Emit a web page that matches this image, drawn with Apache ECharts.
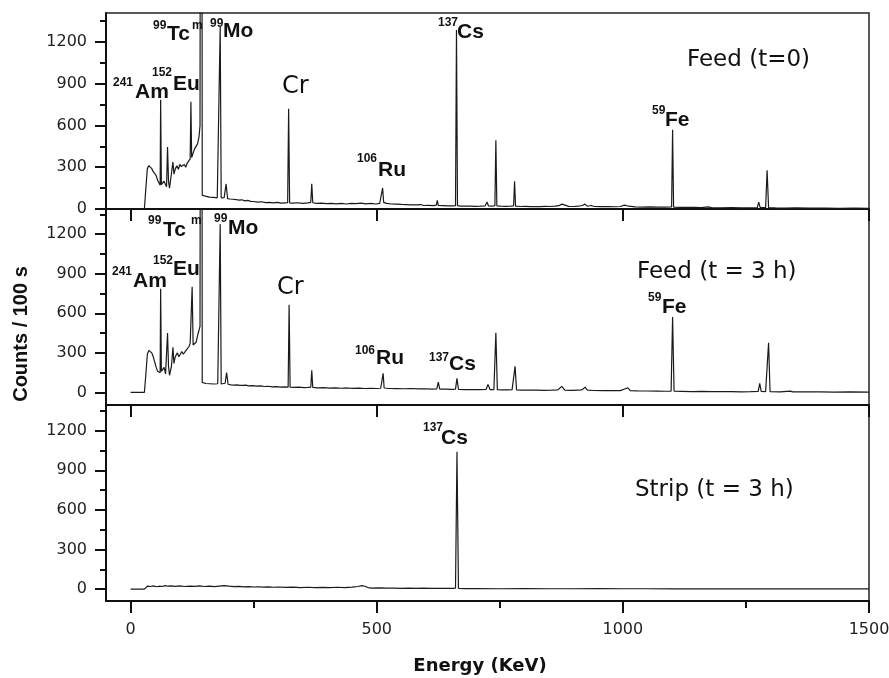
<!DOCTYPE html>
<html>
<head>
<meta charset="utf-8">
<script src="https://cdn.jsdelivr.net/npm/echarts@6/dist/echarts.min.js"></script>
<style>
html, body { margin: 0; padding: 0; background: #fff; }
#chart { width: 889px; height: 678px; }
</style>
</head>
<body>
<div id="chart"></div>
<script>
// [energy KeV, counts / 100 s]
var feed0 = [
  [0, 0], [28, 0], [31, 150], [34, 290], [37, 312], [40, 305], [43, 290], [46, 268], [49, 255], [52, 240],
  [55, 205], [58, 185], [60, 170], [61, 785], [62.5, 175], [65, 170], [68, 200], [71, 175], [73, 160], [75, 446],
  [77, 200], [79, 150], [82, 230], [86, 338], [88, 250], [91, 290], [94, 310], [97, 285], [100, 320], [103, 305],
  [106, 300], [109, 320], [112, 300], [115, 330], [118, 340], [121, 360], [122.5, 770], [124, 370], [127, 380], [130, 432],
  [133, 420], [136, 468], [139, 520], [141, 600], [143.5, 9000], [145.5, 100], [148, 88], [152, 92], [156, 80], [160, 85],
  [164, 78], [168, 83], [172, 75], [176, 80], [180, 78], [182, 1310], [184, 80], [187, 76], [190, 82], [194, 180],
  [197, 75], [202, 72], [208, 70], [214, 68], [220, 64], [226, 66], [232, 58], [238, 62], [244, 55], [250, 54],
  [258, 50], [266, 52], [274, 46], [282, 48], [290, 44], [298, 47], [306, 42], [314, 44], [319, 45], [321, 721],
  [323, 44], [330, 42], [340, 45], [350, 40], [360, 44], [366, 48], [368, 182], [370, 45], [378, 40], [388, 42],
  [398, 38], [408, 41], [418, 37], [428, 40], [438, 36], [448, 41], [458, 38], [468, 42], [478, 37], [488, 40],
  [498, 36], [506, 40], [510, 45], [512, 151], [514, 48], [520, 40], [530, 36], [540, 35], [550, 33], [560, 32],
  [570, 30], [580, 29], [590, 32], [595, 25], [605, 26], [615, 24], [621, 28], [623, 62], [625, 26], [635, 24],
  [645, 22], [655, 22], [660, 24], [662, 1285], [664, 24], [670, 21], [680, 20], [690, 21], [700, 19], [710, 20],
  [720, 22], [724, 50], [727, 22], [734, 20], [740, 24], [742, 494], [744, 22], [752, 20], [762, 19], [772, 20],
  [778, 22], [780, 199], [782, 20], [792, 18], [802, 19], [812, 17], [822, 18], [832, 17], [842, 19], [852, 18],
  [862, 20], [870, 24], [876, 35], [880, 22], [890, 19], [900, 18], [910, 20], [918, 25], [923, 35], [928, 20],
  [936, 25], [942, 18], [955, 17], [970, 18], [985, 16], [995, 18], [1003, 28], [1007, 30], [1012, 20], [1025, 15],
  [1040, 14], [1055, 15], [1070, 13], [1085, 14], [1099, 15], [1101, 570], [1103, 14], [1115, 12], [1130, 11], [1145, 12],
  [1160, 10], [1173, 15], [1180, 10], [1200, 9], [1220, 10], [1240, 8], [1260, 9], [1273, 10], [1276, 50], [1279, 10],
  [1290, 10], [1293, 278], [1296, 9], [1310, 8], [1330, 7], [1350, 8], [1380, 6], [1410, 7], [1440, 5], [1470, 6], [1500, 5]
];
var feed3h = [
  [0, 0], [28, 0], [31, 140], [34, 290], [37, 318], [40, 320], [43, 300], [46, 270], [49, 230], [52, 190],
  [55, 160], [58, 145], [60, 150], [61, 785], [62.5, 160], [65, 168], [68, 190], [71, 140], [73, 130], [75, 450],
  [77, 200], [79, 130], [81, 115], [83, 200], [86, 343], [88, 220], [90, 260], [92, 280], [95, 300], [98, 270],
  [101, 290], [104, 310], [107, 290], [110, 300], [113, 320], [116, 330], [119, 350], [121, 374], [123, 360], [125, 800],
  [127, 360], [130, 345], [133, 380], [136, 430], [138, 458], [141, 500], [143.5, 9000], [145.5, 76], [149, 72], [153, 68],
  [157, 70], [161, 66], [165, 70], [169, 64], [173, 68], [177, 66], [180, 65], [182, 1275], [184, 64], [188, 60],
  [192, 70], [195, 150], [198, 62], [204, 58], [210, 55], [216, 58], [222, 54], [228, 53], [234, 56], [240, 50],
  [248, 52], [256, 48], [264, 50], [272, 45], [280, 47], [288, 43], [296, 44], [304, 40], [312, 42], [320, 40],
  [322, 664], [324, 40], [332, 38], [342, 40], [352, 36], [360, 38], [366, 40], [368, 168], [370, 38], [380, 35],
  [392, 37], [404, 33], [416, 35], [428, 32], [440, 34], [452, 31], [464, 33], [476, 30], [488, 32], [500, 30],
  [508, 32], [511, 35], [513, 145], [515, 34], [525, 30], [540, 29], [555, 28], [570, 30], [585, 27], [600, 28],
  [612, 26], [622, 27], [625, 79], [628, 26], [640, 25], [652, 24], [660, 25], [663, 107], [666, 24], [680, 22],
  [695, 21], [710, 22], [722, 23], [726, 61], [730, 22], [738, 22], [742, 453], [745, 21], [755, 20], [765, 19],
  [775, 21], [781, 198], [784, 20], [795, 18], [810, 17], [825, 18], [840, 16], [855, 17], [868, 20], [876, 46],
  [882, 18], [895, 16], [910, 17], [918, 22], [923, 40], [928, 17], [940, 15], [960, 14], [980, 15], [995, 14],
  [1005, 28], [1010, 35], [1015, 14], [1030, 12], [1050, 11], [1070, 10], [1085, 9], [1098, 10], [1101, 572], [1104, 9],
  [1120, 8], [1140, 7], [1160, 8], [1180, 6], [1200, 7], [1220, 6], [1240, 5], [1260, 6], [1275, 8], [1278, 69],
  [1281, 8], [1290, 7], [1296, 376], [1299, 6], [1320, 5], [1340, 10], [1345, 5], [1370, 4], [1400, 4], [1430, 3],
  [1460, 4], [1500, 3]
];
var strip = [
  [0, 0], [28, 0], [31, 15], [34, 22], [40, 20], [46, 24], [52, 18], [58, 22], [64, 20], [70, 26],
  [76, 22], [82, 25], [90, 21], [100, 24], [110, 20], [120, 23], [130, 21], [140, 24], [150, 20], [160, 22],
  [170, 19], [180, 23], [190, 26], [200, 22], [210, 19], [220, 21], [230, 17], [240, 19], [250, 16], [260, 18],
  [270, 15], [280, 17], [290, 14], [300, 16], [315, 13], [330, 15], [345, 12], [360, 14], [375, 11], [390, 13],
  [405, 12], [420, 14], [435, 12], [450, 15], [462, 20], [470, 27], [476, 22], [482, 12], [490, 8], [505, 9],
  [520, 7], [535, 8], [550, 6], [565, 7], [580, 6], [595, 7], [610, 5], [625, 6], [640, 5], [655, 6],
  [660, 8], [663, 1040], [666, 6], [680, 4], [700, 4], [750, 3], [800, 4], [850, 3], [900, 3], [950, 4],
  [1000, 3], [1050, 3], [1100, 2], [1150, 3], [1200, 2], [1250, 3], [1300, 2], [1350, 3], [1400, 2], [1450, 3], [1500, 2]
];
var xTicks = [0, 500, 1000, 1500];
var xMinorTicks = [250, 750, 1250];
var yTicks = [0, 300, 600, 900, 1200];
var yMinorTicks = [150, 450, 750, 1050, 1350];

var chart = echarts.init(document.getElementById("chart"));

// three stacked panels sharing the energy axis
var panels = [
  { top: 13, ymin: 0, ymax: 1408 },
  { top: 209, ymin: -95, ymax: 1390 },
  { top: 405, ymin: -90, ymax: 1395 }
];
var black = "#111";
function plain(v) { return String(v); }

function mainX(i) {
  return {
    type: "value", gridIndex: i, min: -50, max: 1500,
    axisLine: { show: true, onZero: false, lineStyle: { color: black, width: 2 } },
    axisTick: { show: true, customValues: xTicks, length: 12, lineStyle: { color: black, width: 2 } },
    axisLabel: {
      show: i === 2, customValues: xTicks, margin: 21, formatter: plain,
      fontSize: 16, fontFamily: "DejaVu Sans", color: "#222"
    },
    splitLine: { show: false }
  };
}
function mainY(i) {
  return {
    type: "value", gridIndex: i, position: "left", min: panels[i].ymin, max: panels[i].ymax,
    axisLine: { show: true, onZero: false, lineStyle: { color: black, width: 2 } },
    axisTick: { show: true, customValues: yTicks, length: 11, lineStyle: { color: black, width: 2 } },
    axisLabel: {
      customValues: yTicks, margin: 19, formatter: plain,
      fontSize: 16, fontFamily: "DejaVu Sans", color: "#222"
    },
    splitLine: { show: false }
  };
}
function minorY(i) {
  return {
    type: "value", gridIndex: i, position: "left", min: panels[i].ymin, max: panels[i].ymax,
    axisLine: { show: false, onZero: false },
    axisTick: { show: true, customValues: yMinorTicks, length: 6, lineStyle: { color: black, width: 2 } },
    axisLabel: { show: false },
    splitLine: { show: false }
  };
}

var SUP = 'bold 12px "Liberation Sans"';
var NUC = 'bold 21px "Liberation Sans"';
var CR = '24px "DejaVu Sans"';
var TAG = '23px "DejaVu Sans"';
function t(x, y, s, font) {
  return {
    type: "text", x: x, y: y, z: 100,
    style: { text: s, font: font, fill: black, align: "left", verticalAlign: "middle" }
  };
}

var option = {
  animation: false,
  backgroundColor: "#fff",
  grid: panels.map(function (p) {
    return {
      left: 106, right: 20, top: p.top, height: 196,
      outerBoundsMode: "none", containLabel: false,
      show: true, borderColor: "#222", borderWidth: 1.5, backgroundColor: "transparent"
    };
  }),
  xAxis: [
    mainX(0), mainX(1), mainX(2),
    {
      type: "value", gridIndex: 2, position: "bottom", min: -50, max: 1500,
      axisLine: { show: false, onZero: false },
      axisTick: { show: true, customValues: xMinorTicks, length: 7, lineStyle: { color: black, width: 2 } },
      axisLabel: { show: false },
      splitLine: { show: false }
    }
  ],
  yAxis: [mainY(0), mainY(1), mainY(2), minorY(0), minorY(1), minorY(2)],
  series: [feed0, feed3h, strip].map(function (d, i) {
    return {
      type: "line", xAxisIndex: i, yAxisIndex: i, data: d,
      showSymbol: false, symbol: "none", clip: true,
      lineStyle: { color: "#1a1a1a", width: 1.2 }
    };
  }),
  graphic: [
    // Feed t=0
    t(113, 82.5, "241", SUP), t(135, 92.5, "Am", NUC),
    t(152, 72.5, "152", SUP), t(173, 84, "Eu", NUC),
    t(153, 25.5, "99", SUP), t(167, 34.7, "Tc", NUC), t(192, 25.5, "m", SUP),
    t(210, 23.5, "99", SUP), t(223, 31, "Mo", NUC),
    t(282, 86.7, "Cr", CR),
    t(357, 159, "106", SUP), t(378, 170.5, "Ru", NUC),
    t(438, 22.5, "137", SUP), t(457, 32, "Cs", NUC),
    t(652, 111, "59", SUP), t(665, 120, "Fe", NUC),
    t(687, 60, "Feed (t=0)", TAG),
    // Feed t=3h
    t(148, 221, "99", SUP), t(163, 230, "Tc", NUC), t(191, 221, "m", SUP),
    t(214, 219, "99", SUP), t(228, 228.3, "Mo", NUC),
    t(112, 271.7, "241", SUP), t(133, 281, "Am", NUC),
    t(153, 260.5, "152", SUP), t(173, 269.5, "Eu", NUC),
    t(277, 288, "Cr", CR),
    t(355, 351, "106", SUP), t(376, 358.7, "Ru", NUC),
    t(429, 357.5, "137", SUP), t(449, 364, "Cs", NUC),
    t(648, 297.5, "59", SUP), t(662, 307, "Fe", NUC),
    t(637, 272, "Feed (t = 3 h)", TAG),
    // Strip
    t(423, 428, "137", SUP), t(441, 438, "Cs", NUC),
    t(635, 490, "Strip (t = 3 h)", TAG),
    // axis titles
    {
      type: "text", x: 21, y: 334, rotation: Math.PI / 2, z: 100,
      style: { text: "Counts / 100 s", font: 'bold 20px "Liberation Sans"', fill: black, align: "center", verticalAlign: "middle" }
    },
    {
      type: "text", x: 480, y: 666, z: 100,
      style: { text: "Energy (KeV)", font: 'bold 18px "DejaVu Sans"', fill: black, align: "center", verticalAlign: "middle" }
    }
  ]
};
chart.setOption(option);
</script>
</body>
</html>
